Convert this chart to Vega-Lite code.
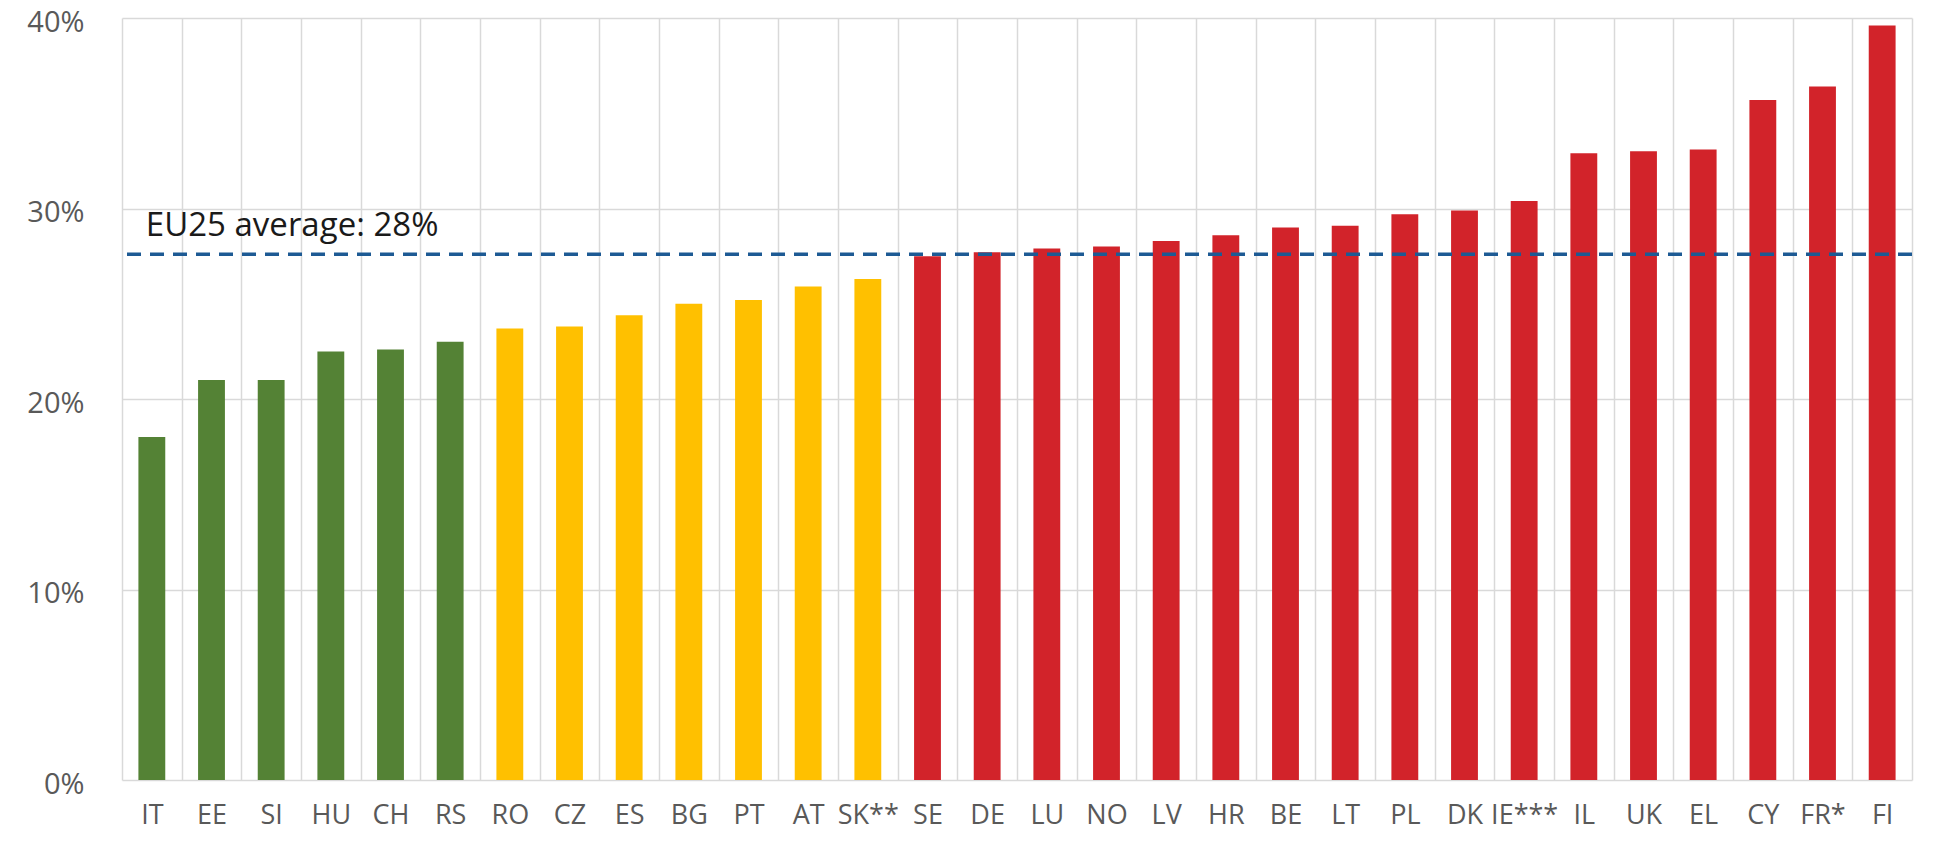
{
  "$schema": "https://vega.github.io/schema/vega-lite/v6.json",
  "autosize": {"type": "none"},
  "width": 1790,
  "height": 762,
  "padding": {"left": 122, "top": 18, "right": 29, "bottom": 63},
  "background": "white",
  "config": {
    "view": {"stroke": null},
    "font": "Open Sans"
  },
  "datasets": {
    "bars": [
      {"country": "IT", "value": 18.0, "group": "low"},
      {"country": "EE", "value": 21.0, "group": "low"},
      {"country": "SI", "value": 21.0, "group": "low"},
      {"country": "HU", "value": 22.5, "group": "low"},
      {"country": "CH", "value": 22.6, "group": "low"},
      {"country": "RS", "value": 23.0, "group": "low"},
      {"country": "RO", "value": 23.7, "group": "mid"},
      {"country": "CZ", "value": 23.8, "group": "mid"},
      {"country": "ES", "value": 24.4, "group": "mid"},
      {"country": "BG", "value": 25.0, "group": "mid"},
      {"country": "PT", "value": 25.2, "group": "mid"},
      {"country": "AT", "value": 25.9, "group": "mid"},
      {"country": "SK**", "value": 26.3, "group": "mid"},
      {"country": "SE", "value": 27.5, "group": "high"},
      {"country": "DE", "value": 27.7, "group": "high"},
      {"country": "LU", "value": 27.9, "group": "high"},
      {"country": "NO", "value": 28.0, "group": "high"},
      {"country": "LV", "value": 28.3, "group": "high"},
      {"country": "HR", "value": 28.6, "group": "high"},
      {"country": "BE", "value": 29.0, "group": "high"},
      {"country": "LT", "value": 29.1, "group": "high"},
      {"country": "PL", "value": 29.7, "group": "high"},
      {"country": "DK", "value": 29.9, "group": "high"},
      {"country": "IE***", "value": 30.4, "group": "high"},
      {"country": "IL", "value": 32.9, "group": "high"},
      {"country": "UK", "value": 33.0, "group": "high"},
      {"country": "EL", "value": 33.1, "group": "high"},
      {"country": "CY", "value": 35.7, "group": "high"},
      {"country": "FR*", "value": 36.4, "group": "high"},
      {"country": "FI", "value": 39.6, "group": "high"}
    ],
    "avg": [{"label": "EU25 average: 28%", "value": 27.6, "first": "IT"}]
  },
  "layer": [
    {
      "data": {"name": "bars"},
      "mark": {"type": "bar", "width": {"band": 0.45}},
      "encoding": {
        "x": {
          "field": "country", "type": "nominal",
          "scale": {
            "domain": ["IT", "EE", "SI", "HU", "CH", "RS", "RO", "CZ", "ES", "BG", "PT", "AT", "SK**", "SE", "DE", "LU", "NO", "LV", "HR", "BE", "LT", "PL", "DK", "IE***", "IL", "UK", "EL", "CY", "FR*", "FI"],
            "paddingInner": 0, "paddingOuter": 0
          },
          "axis": {
            "title": null, "labelAngle": 0, "domain": false, "ticks": false,
            "grid": true, "tickBand": "extent", "gridColor": "#d9d9d9", "gridWidth": 1.5,
            "labelFont": "Open Sans", "labelFontSize": 27, "labelColor": "#595959",
            "labelPadding": 22
          }
        },
        "y": {
          "field": "value", "type": "quantitative",
          "scale": {"domain": [0, 40], "nice": false},
          "axis": {
            "title": null, "domain": false, "ticks": false, "grid": true,
            "gridColor": "#d9d9d9", "gridWidth": 1.5,
            "values": [0, 10, 20, 30, 40],
            "labelExpr": "datum.value + '%'",
            "labelFont": "Open Sans", "labelFontSize": 29, "labelColor": "#595959",
            "labelPadding": 38, "labelOffset": 4
          }
        },
        "color": {
          "field": "group", "type": "nominal",
          "scale": {"domain": ["low", "mid", "high"], "range": ["#548235", "#FFC000", "#D2232A"]},
          "legend": null
        }
      }
    },
    {
      "data": {"name": "avg"},
      "mark": {"type": "rule", "color": "#1D5A94", "strokeWidth": 3.5, "strokeDash": [14, 9]},
      "encoding": {
        "y": {"field": "value", "type": "quantitative"}
      }
    },
    {
      "data": {"name": "avg"},
      "mark": {"type": "text", "align": "left", "baseline": "alphabetic", "dx": -6, "dy": -18, "fontSize": 33, "font": "Open Sans", "color": "#1a1a1a"},
      "encoding": {
        "x": {"field": "first", "type": "nominal"},
        "y": {"field": "value", "type": "quantitative"},
        "text": {"field": "label"}
      }
    }
  ]
}
